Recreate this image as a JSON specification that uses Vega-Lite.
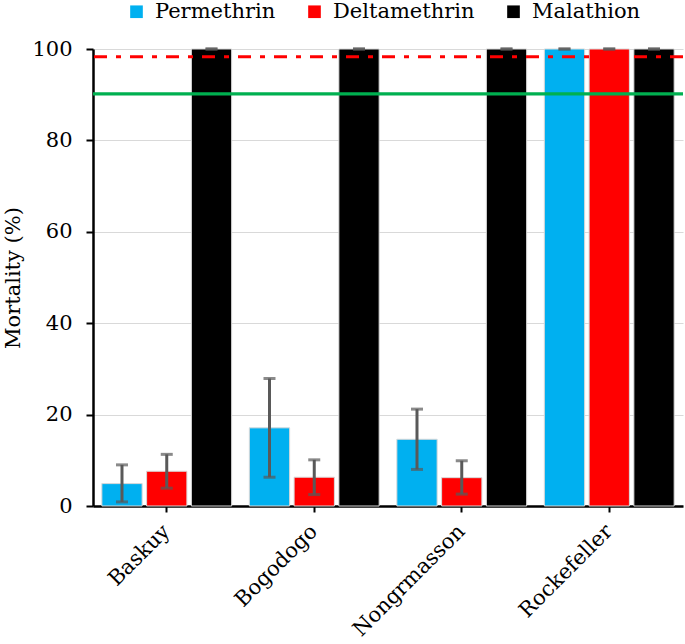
{
  "$schema": "https://vega.github.io/schema/vega-lite/v6.json",
  "width": 590,
  "height": 457,
  "autosize": {"type": "none"},
  "padding": {"left": 93, "top": 49, "right": 2, "bottom": 138},
  "background": "white",
  "config": {
    "view": {"stroke": null},
    "font": "DejaVu Serif",
    "axis": {"labelColor": "black", "titleColor": "black", "labelFont": "DejaVu Serif", "titleFont": "DejaVu Serif"},
    "legend": {"labelFont": "DejaVu Serif"}
  },
  "datasets": {
    "bars": [
      {"site": "Baskuy", "insecticide": "Permethrin", "mortality": 4.9, "lo": 0.9, "hi": 9.0},
      {"site": "Baskuy", "insecticide": "Deltamethrin", "mortality": 7.6, "lo": 3.9, "hi": 11.3},
      {"site": "Baskuy", "insecticide": "Malathion", "mortality": 100, "lo": 100, "hi": 100},
      {"site": "Bogodogo", "insecticide": "Permethrin", "mortality": 17.1, "lo": 6.3, "hi": 27.9},
      {"site": "Bogodogo", "insecticide": "Deltamethrin", "mortality": 6.3, "lo": 2.5, "hi": 10.1},
      {"site": "Bogodogo", "insecticide": "Malathion", "mortality": 100, "lo": 100, "hi": 100},
      {"site": "Nongrmasson", "insecticide": "Permethrin", "mortality": 14.6, "lo": 8.0, "hi": 21.2},
      {"site": "Nongrmasson", "insecticide": "Deltamethrin", "mortality": 6.2, "lo": 2.6, "hi": 9.9},
      {"site": "Nongrmasson", "insecticide": "Malathion", "mortality": 100, "lo": 100, "hi": 100},
      {"site": "Rockefeller", "insecticide": "Permethrin", "mortality": 100, "lo": 100, "hi": 100},
      {"site": "Rockefeller", "insecticide": "Deltamethrin", "mortality": 100, "lo": 100, "hi": 100},
      {"site": "Rockefeller", "insecticide": "Malathion", "mortality": 100, "lo": 100, "hi": 100}
    ],
    "green": [{"threshold": 90.2}],
    "red": [{"threshold": 98.3}]
  },
  "layer": [
    {
      "data": {"name": "bars"},
      "mark": {"type": "bar", "stroke": "#d9d9d9", "strokeWidth": 1},
      "encoding": {
        "x": {
          "field": "site", "type": "nominal", "sort": null,
          "scale": {"paddingInner": 0.12, "paddingOuter": 0.06},
          "axis": {
            "title": null, "labelAngle": -45, "labelFont": "DejaVu Serif", "labelFontSize": 21, "labelAlign": "right", "labelBaseline": "middle",
            "labelPadding": 16, "domainColor": "black", "domainWidth": 2.5, "tickColor": "black", "tickWidth": 2, "tickSize": 6, "grid": false
          }
        },
        "xOffset": {"field": "insecticide", "type": "nominal", "sort": ["Permethrin", "Deltamethrin", "Malathion"], "scale": {"paddingInner": 0.1}},
        "y": {
          "field": "mortality", "type": "quantitative",
          "scale": {"domain": [0, 100], "nice": false},
          "axis": {
            "title": "Mortality (%)", "titleFont": "DejaVu Serif", "titleFontSize": 21, "titleFontWeight": "normal", "titlePadding": 8,
            "values": [0, 20, 40, 60, 80, 100], "labelFont": "DejaVu Serif", "labelFontSize": 21, "labelPadding": 14,
            "domainColor": "black", "domainWidth": 2.5, "tickColor": "black", "tickWidth": 2, "tickSize": 7,
            "grid": true, "gridColor": "#d9d9d9", "gridWidth": 1
          }
        },
        "color": {
          "field": "insecticide", "type": "nominal",
          "sort": ["Permethrin", "Deltamethrin", "Malathion"],
          "scale": {"domain": ["Permethrin", "Deltamethrin", "Malathion"], "range": ["#00B0F0", "#FF0000", "#000000"]},
          "legend": {
            "title": null, "orient": "none", "direction": "horizontal", "legendX": 33, "legendY": -48,
            "symbolType": "square", "symbolSize": 160, "symbolStrokeWidth": 0, "labelFont": "DejaVu Serif", "labelFontSize": 21, "labelColor": "black",
            "columnPadding": 28, "labelOffset": 8, "padding": 0, "labelLimit": 400
          }
        }
      }
    },
    {
      "data": {"name": "green"},
      "mark": {"type": "rule", "color": "#00B050", "strokeWidth": 3.3},
      "encoding": {"y": {"field": "threshold", "type": "quantitative"}}
    },
    {
      "data": {"name": "red"},
      "mark": {"type": "rule", "color": "#FF0000", "strokeWidth": 3, "strokeDash": [13, 9, 5, 9]},
      "encoding": {"y": {"field": "threshold", "type": "quantitative"}}
    },
    {
      "data": {"name": "bars"},
      "mark": {"type": "rule", "color": "#595959", "strokeWidth": 3},
      "encoding": {
        "x": {"field": "site", "type": "nominal", "sort": null},
        "xOffset": {"field": "insecticide", "type": "nominal", "sort": ["Permethrin", "Deltamethrin", "Malathion"]},
        "y": {"field": "lo", "type": "quantitative"},
        "y2": {"field": "hi"}
      }
    },
    {
      "data": {"name": "bars"},
      "mark": {"type": "tick", "color": "#595959", "thickness": 3, "size": 12, "orient": "horizontal"},
      "encoding": {
        "x": {"field": "site", "type": "nominal", "sort": null},
        "xOffset": {"field": "insecticide", "type": "nominal", "sort": ["Permethrin", "Deltamethrin", "Malathion"]},
        "y": {"field": "lo", "type": "quantitative"}
      }
    },
    {
      "data": {"name": "bars"},
      "mark": {"type": "tick", "color": "#595959", "thickness": 3, "size": 12, "orient": "horizontal"},
      "encoding": {
        "x": {"field": "site", "type": "nominal", "sort": null},
        "xOffset": {"field": "insecticide", "type": "nominal", "sort": ["Permethrin", "Deltamethrin", "Malathion"]},
        "y": {"field": "hi", "type": "quantitative"}
      }
    }
  ]
}
